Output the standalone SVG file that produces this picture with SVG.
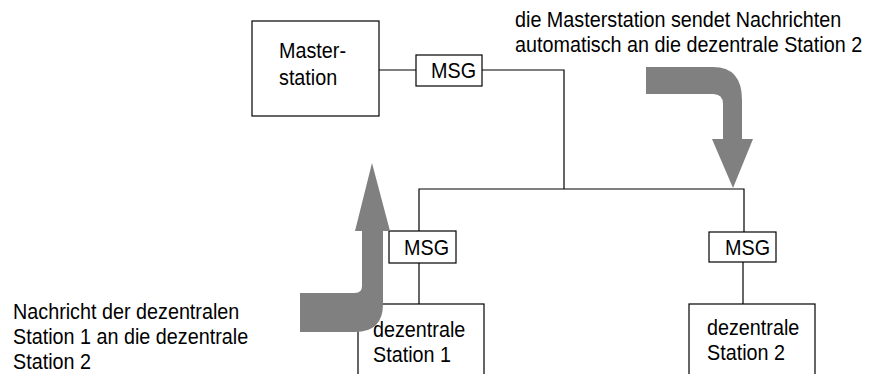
<svg xmlns="http://www.w3.org/2000/svg" width="873" height="374" viewBox="0 0 873 374">
<style>
text{font-family:"Liberation Sans",Arial,sans-serif;font-size:21.5px;fill:#000}
.box{fill:#fff;stroke:#000;stroke-width:1.2}
.ln{fill:none;stroke:#000;stroke-width:1.2}
.arr{fill:#808080;stroke:none}
</style>
<rect width="873" height="374" fill="#fff"/>
<g id="connectors">
<polyline class="ln" points="379,70 416,70"/>
<polyline class="ln" points="482,70 564,70 564,189"/>
<polyline class="ln" points="419,231 419,189 744,189 744,232"/>
<line class="ln" x1="419" y1="263" x2="419" y2="304"/>
<line class="ln" x1="743" y1="262" x2="743" y2="304"/>
</g>
<g id="master">
<rect class="box" x="252" y="21" width="127" height="95"/>
<text transform="translate(279,58) scale(0.92,1)">Master-</text>
<text transform="translate(279,85) scale(0.92,1)">station</text>
</g>
<g id="msg-master">
<rect class="box" x="416" y="55" width="66" height="31"/>
<text transform="translate(431,78) scale(0.92,1)">MSG</text>
</g>
<g id="msg-1">
<rect class="box" x="389" y="231" width="67" height="32"/>
<text transform="translate(404,255) scale(0.92,1)">MSG</text>
</g>
<g id="msg-2">
<rect class="box" x="709" y="232" width="67" height="30"/>
<text transform="translate(725,255) scale(0.92,1)">MSG</text>
</g>
<g id="station1">
<rect class="box" x="358" y="304" width="126" height="80"/>
<text transform="translate(373,337) scale(0.92,1)">dezentrale</text>
<text transform="translate(373,362) scale(0.92,1)">Station 1</text>
</g>
<g id="station2">
<rect class="box" x="689" y="304" width="126" height="80"/>
<text transform="translate(707,335) scale(0.92,1)">dezentrale</text>
<text transform="translate(707,360) scale(0.92,1)">Station 2</text>
</g>
<g id="arrow-up">
<path class="arr" d="M372,163 L390,231 L383,231 L383,304 Q383,332 355,332 L300,332 L300,293 L355,293 Q362,293 362,286 L362,231 L355,231 Z"/>
</g>
<g id="arrow-down">
<path class="arr" d="M646,67 L713,67 Q742,67 742,100 L742,139 L753,139 L733,188 L712,139 L723,139 L723,104 Q723,94 713,94 L646,94 Z"/>
</g>
<g id="label-top">
<text transform="translate(515,27) scale(0.92,1)">die Masterstation sendet Nachrichten</text>
<text transform="translate(515,52) scale(0.92,1)">automatisch an die dezentrale Station 2</text>
</g>
<g id="label-bottom">
<text transform="translate(13,319) scale(0.92,1)">Nachricht der dezentralen</text>
<text transform="translate(13,344) scale(0.92,1)">Station 1 an die dezentrale</text>
<text transform="translate(13,369) scale(0.92,1)">Station 2</text>
</g>
</svg>
